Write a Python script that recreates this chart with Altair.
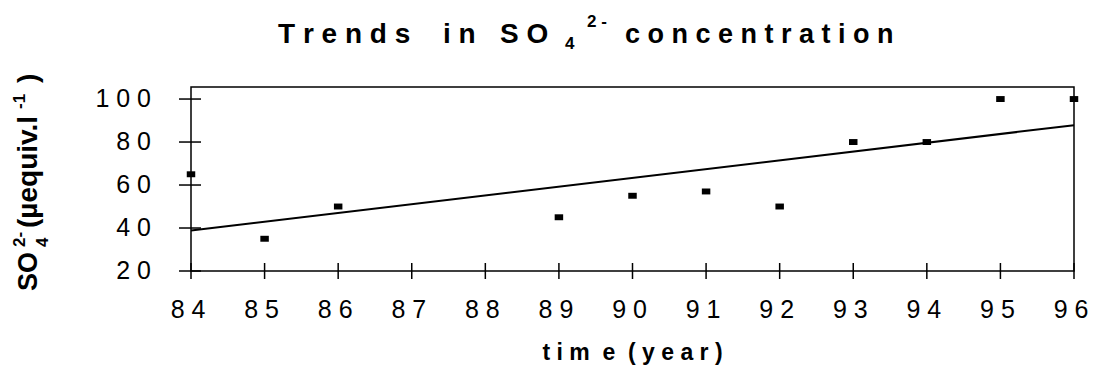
import altair as alt
import pandas as pd

# ---- data ----
YEARS = [84, 85, 86, 89, 90, 91, 92, 93, 94, 95, 96]
SO4 = [65, 35, 50, 45, 55, 57, 50, 80, 80, 100, 100]
X_TICKS = [84, 85, 86, 87, 88, 89, 90, 91, 92, 93, 94, 95, 96]
X_LABELS = ["8 4", "8 5", "8 6", "8 7", "8 8", "8 9", "9 0", "9 1", "9 2", "9 3", "9 4", "9 5", "9 6"]
Y_TICKS = [20, 40, 60, 80, 100]
Y_LABELS = ["2 0", "4 0", "6 0", "8 0", "1 0 0"]
X_DOMAIN = [84, 96]
Y_DOMAIN = [20, 105.6]

# ---- texts (NBSP used where the original has wider gaps) ----
NB = "\u00a0"
TITLE_A = "T r e n d s"
TITLE_B = "i n"
TITLE_C = "S O"
TITLE_SUB = "4"
TITLE_SUP = "2 -"
TITLE_D = "c o n c e n t r a t i o n"
XTITLE = "t i m " + NB + "e " + NB + "( y e a r )"
YT_A = "SO"
YT_SUB = "4"
YT_SUP = "2-"
YT_B = "(µequiv.l"
YT_SUP2 = "-1"
YT_C = ")"

W, H = 883, 184
FONT = "Liberation Sans"

df = pd.DataFrame({"year": YEARS, "so4": SO4})
xt = pd.DataFrame({"year": X_TICKS, "lab": X_LABELS})
yt = pd.DataFrame({"so4": Y_TICKS, "lab": Y_LABELS})

xs = alt.Scale(domain=X_DOMAIN, nice=False, zero=False)
ys = alt.Scale(domain=Y_DOMAIN, nice=False, zero=False)

marker = "M-1,-0.7L1,-0.7L1,0.7L-1,0.7Z"

X = lambda: alt.X("year:Q", scale=xs, axis=None)
Y = lambda: alt.Y("so4:Q", scale=ys, axis=None)

points = alt.Chart(df).mark_point(
    shape=marker, filled=True, color="black", size=72, opacity=1
).encode(x=X(), y=Y())

trend = alt.Chart(df).transform_regression("year", "so4").mark_line(
    color="black", strokeWidth=2
).encode(x=X(), y=Y())

xticks = alt.Chart(xt).mark_rule(color="black", strokeWidth=1.5).encode(
    x=X(), y=alt.value(H - 8), y2=alt.value(H + 8),
)
yticks = alt.Chart(yt).mark_rule(color="black", strokeWidth=1.5).encode(
    y=Y(), x=alt.value(-12), x2=alt.value(10),
)

xlabels = alt.Chart(xt).mark_text(
    align="center", baseline="alphabetic", font=FONT, fontSize=25, color="black", dx=-3
).encode(x=X(), y=alt.value(H + 47), text="lab:N")

ylabels = alt.Chart(yt).mark_text(
    align="right", baseline="middle", font=FONT, fontSize=25, color="black"
).encode(y=Y(), x=alt.value(-40), text="lab:N")


def txt(s, x, y, size, bold=True, angle=0, align="left"):
    return alt.Chart(pd.DataFrame({"t": [s]})).mark_text(
        align=align, baseline="alphabetic", font=FONT, fontSize=size,
        fontWeight="bold" if bold else "normal", angle=angle, color="black"
    ).encode(text="t:N", x=alt.value(x), y=alt.value(y))


texts = [
    txt(TITLE_A, 87, -44, 28),
    txt(TITLE_B, 252, -44, 28),
    txt(TITLE_C, 309, -44, 28),
    txt(TITLE_SUB, 374, -38, 17),
    txt(TITLE_SUP, 396, -60, 17),
    txt(TITLE_D, 434, -44, 27),
    txt(XTITLE, W / 2, 273, 23, align="center"),
    txt(YT_A, -154, 204, 27, angle=270),
    txt(YT_SUB, -143, 160, 17, angle=270),
    txt(YT_SUP, -166, 160, 17, angle=270),
    txt(YT_B, -154, 141, 28, angle=270),
    txt(YT_SUP2, -166, 22, 17, angle=270),
    txt(YT_C, -154, -4, 28, angle=270),
]

chart = alt.layer(points, trend, xticks, yticks, xlabels, ylabels, *texts).properties(
    width=W, height=H,
    autosize=alt.AutoSizeParams(type="none"),
    padding={"left": 191, "top": 87, "right": 19, "bottom": 97},
    background="white",
).configure_view(stroke="black", strokeWidth=1.5)

chart.save("out.html", embed_options={"renderer": "svg", "actions": False})
